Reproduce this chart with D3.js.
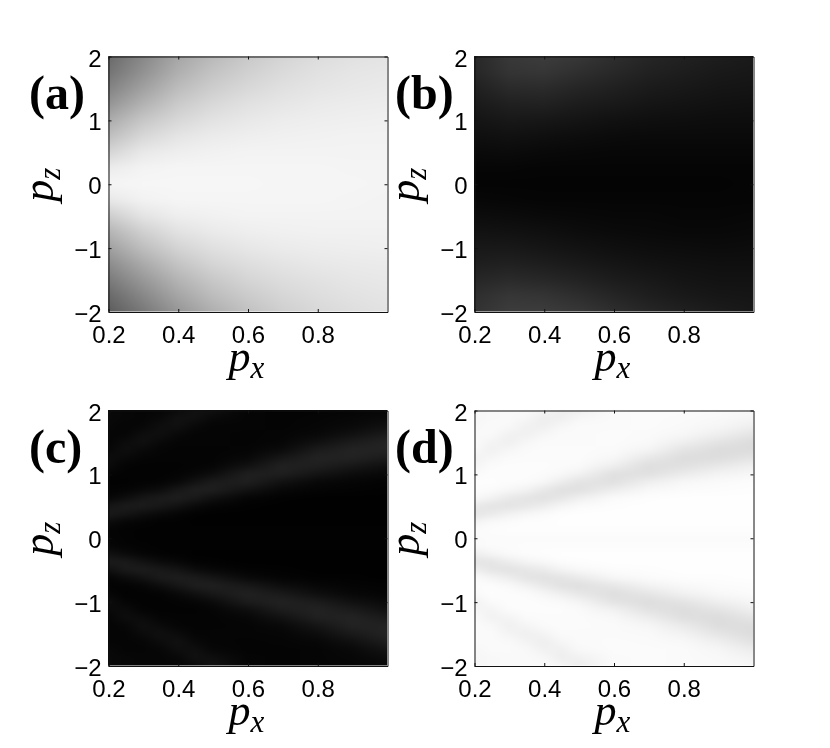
<!DOCTYPE html>
<html>
<head>
<meta charset="utf-8">
<script src="https://cdn.jsdelivr.net/npm/d3@7"></script>
<style>
html,body{margin:0;padding:0;background:#fff}
#wrap{position:relative;width:830px;height:748px;overflow:hidden}
canvas,svg{position:absolute;left:0;top:0}
.tick text{font-family:"Liberation Sans",Arial,sans-serif;font-size:24px;fill:#000}
.math{font-family:"Liberation Serif",serif;font-style:italic;fill:#000}
.tag{font-family:"Liberation Serif",serif;font-weight:bold;font-size:48px;fill:#000}
</style>
</head>
<body>
<div id="wrap"><canvas id="cv" width="830" height="748"></canvas><svg id="sv" width="830" height="748"></svg></div>
<script>
const pxCoarse = [0.2,0.3,0.4,0.5,0.6,0.7,0.8,0.9,1.0];
const pxFine = [0.2,0.25,0.3,0.35,0.4,0.45,0.5,0.6,0.7,0.8,0.9,1.0];
const pzCoarse = [2,1.75,1.5,1.25,1,0.75,0.5,0.25,0,-0.25,-0.5,-0.75,-1,-1.25,-1.5,-1.75,-2];
const pzFine = [2,1.875,1.75,1.625,1.5,1.375,1.25,1.125,1,0.875,0.75,0.625,0.5,0.375,0.25,0.125,0,-0.125,-0.25,-0.375,-0.5,-0.625,-0.75,-0.875,-1,-1.125,-1.25,-1.375,-1.5,-1.625,-1.75,-1.875,-2];
const xTicks = [0.2,0.4,0.6,0.8];
const yTicks = [-2,-1,0,1,2];
const panelTags = ["(a)","(b)","(c)","(d)"];

const valuesA = [
[105,135,165,185,200,212,220,225,228],
[115,145,175,195,208,218,225,229,231],
[130,160,188,205,216,224,229,232,234],
[148,178,202,216,225,230,234,236,237],
[170,198,215,226,232,236,238,239,240],
[190,215,228,235,238,240,241,242,242],
[212,232,238,241,243,243,243,243,243],
[235,243,245,245,245,245,245,244,244],
[245,246,246,246,246,245,245,245,244],
[232,242,245,245,245,245,245,244,243],
[205,228,238,241,243,243,243,243,243],
[180,208,226,234,238,240,241,241,241],
[160,190,212,224,231,235,237,238,239],
[140,170,196,213,222,228,232,234,235],
[122,152,180,200,213,221,226,230,232],
[105,135,165,188,203,214,221,226,229],
[92,120,150,175,193,207,216,222,226]];

const valuesB = [
[40,56,60,55,46,38,33,29,26],
[38,52,54,47,40,33,29,25,23],
[32,42,43,37,32,27,24,21,20],
[26,32,33,28,25,21,19,17,16],
[20,24,23,20,17,15,14,13,13],
[15,17,15,13,11,10,10,10,10],
[10,11,9,8,7,7,7,7,7],
[6,6,5,5,5,5,5,5,5],
[4,4,4,4,4,4,4,4,5],
[7,6,5,5,5,5,5,5,5],
[12,11,9,8,7,7,6,6,7],
[18,17,15,12,10,9,8,8,9],
[24,24,21,18,15,13,12,11,12],
[30,32,29,25,21,18,16,15,15],
[38,42,39,34,28,24,20,18,18],
[46,54,52,45,37,30,25,22,21],
[50,60,60,55,46,38,32,27,24]];

const valuesC = [
[9,7,6,6,10,17,16,5,4,4,5,7],
[9,7,6,9,17,16,9,5,4,5,7,10],
[8,5,7,14,16,9,5,5,4,6,9,16],
[6,6,13,15,9,5,5,4,5,8,16,26],
[5,11,16,9,5,5,5,4,6,16,27,35],
[7,14,9,5,4,4,4,5,11,27,35,35],
[13,9,5,4,4,4,4,8,23,34,34,27],
[11,4,3,3,3,4,5,17,33,31,23,15],
[5,3,3,3,4,7,13,31,31,20,12,8],
[2,2,3,4,8,18,27,31,17,8,5,3],
[3,4,8,13,23,31,31,18,7,4,3,2],
[6,13,22,27,30,25,16,5,2,1,1,1],
[21,27,28,24,18,10,5,2,1,1,1,1],
[27,21,14,9,5,2,1,1,1,1,1,1],
[12,6,4,2,2,1,1,1,1,1,1,1],
[4,3,2,2,2,2,2,2,2,2,2,2],
[5,3,2,2,2,2,2,2,2,2,2,2],
[6,4,3,2,2,2,2,2,2,2,2,2],
[17,10,5,3,2,1,1,1,1,1,1,1],
[28,26,18,11,7,3,2,1,1,1,1,1],
[16,26,29,25,20,12,7,3,2,1,1,1],
[4,11,18,27,30,27,21,9,4,2,2,1],
[3,3,6,13,22,30,32,24,13,7,4,3],
[6,2,3,4,9,16,24,33,25,14,7,4],
[13,5,3,3,4,6,11,28,34,27,16,9],
[9,11,4,3,3,3,5,14,29,34,27,16],
[5,13,11,5,4,4,4,7,18,32,35,26],
[4,7,15,10,5,4,4,5,9,21,34,34],
[5,5,11,16,11,5,5,5,6,13,26,35],
[5,5,6,12,17,9,5,4,5,7,16,29],
[8,5,5,7,14,15,7,4,4,5,9,19],
[9,7,6,6,8,17,14,5,4,5,7,12],
[9,7,6,6,6,10,18,5,4,5,6,8]];

const valuesD = [
[246,248,249,249,245,238,239,250,251,251,250,248],
[246,248,249,246,238,239,246,250,251,250,248,245],
[247,250,248,241,239,246,250,250,251,249,246,239],
[249,249,242,240,246,250,250,251,250,247,239,229],
[250,244,239,246,250,250,250,251,249,239,228,220],
[248,241,246,250,251,251,251,250,244,228,220,220],
[242,246,250,251,251,251,251,247,232,221,221,228],
[244,251,252,252,252,251,250,238,222,224,232,240],
[250,252,252,252,251,248,242,224,224,235,243,247],
[253,253,252,251,247,237,228,224,238,247,250,252],
[252,251,247,242,232,224,224,237,248,251,252,253],
[249,242,233,228,225,230,239,250,253,254,254,254],
[234,228,227,231,237,245,250,253,254,254,254,254],
[228,234,241,246,250,253,254,254,254,254,254,254],
[243,249,251,253,253,254,254,254,254,254,254,254],
[251,252,253,253,253,253,253,253,253,253,253,253],
[250,251,251,251,251,251,251,251,251,251,251,251],
[249,251,251,252,252,252,252,252,252,252,252,252],
[238,245,250,252,253,254,254,254,254,254,254,254],
[227,229,237,244,248,252,253,254,254,254,254,254],
[239,229,226,230,235,243,248,252,253,254,254,254],
[251,244,237,228,225,228,234,246,251,253,253,254],
[252,252,249,242,233,225,223,231,242,248,251,252],
[249,253,252,251,246,239,231,222,230,241,248,251],
[242,250,252,252,251,249,244,227,221,228,239,246],
[246,244,251,252,252,252,250,241,226,221,228,239],
[250,242,244,250,251,251,251,248,237,223,220,229],
[251,248,240,245,250,251,251,250,246,234,221,221],
[250,250,244,239,244,250,250,250,249,242,229,220],
[250,250,249,243,238,246,250,251,250,248,239,226],
[247,250,250,248,241,240,248,251,251,250,246,236],
[246,248,249,249,247,238,241,250,251,250,248,243],
[246,248,249,249,249,245,237,250,251,250,249,247]];

const panels = [
  {vals:valuesA, px:pxCoarse, pz:pzCoarse, left:108, top:56,  tagX:29,  tagY:109, tag:panelTags[0]},
  {vals:valuesB, px:pxCoarse, pz:pzCoarse, left:474, top:56,  tagX:395, tagY:109, tag:panelTags[1]},
  {vals:valuesC, px:pxFine,   pz:pzFine,   left:108, top:410, tagX:29,  tagY:463, tag:panelTags[2]},
  {vals:valuesD, px:pxFine,   pz:pzFine,   left:474, top:410, tagX:395, tagY:463, tag:panelTags[3]}
];
const W = 279, H = 255.5, M = 8;
const ctx = document.getElementById("cv").getContext("2d");
ctx.fillStyle="#fff"; ctx.fillRect(0,0,830,748);
const svg = d3.select("#sv");

panels.forEach(p=>{
  const x = d3.scaleLinear().domain([0.2,1.0]).range([0,W]);
  const y = d3.scaleLinear().domain([-2,2]).range([H,0]);
  const colAt = d3.scaleLinear().domain(p.px).range(d3.range(p.px.length)).clamp(true);
  const rowAt = d3.scaleLinear().domain(p.pz).range(d3.range(p.pz.length)).clamp(true);
  const tw = W+2*M, th = Math.ceil(H)+2*M;
  const off = document.createElement("canvas"); off.width=tw; off.height=th;
  const oc = off.getContext("2d");
  const img = oc.createImageData(tw,th);
  for(let j=0;j<th;j++){
    const rf = rowAt(y.invert(j-M+0.5)), r0 = Math.floor(rf), r1 = Math.min(r0+1,p.pz.length-1), rt = rf-r0;
    for(let i=0;i<tw;i++){
      const cf = colAt(x.invert(i-M+0.5)), c0 = Math.floor(cf), c1 = Math.min(c0+1,p.px.length-1), ct = cf-c0;
      const v = (p.vals[r0][c0]*(1-ct)+p.vals[r0][c1]*ct)*(1-rt)+(p.vals[r1][c0]*(1-ct)+p.vals[r1][c1]*ct)*rt;
      const k = (j*tw+i)*4;
      img.data[k]=img.data[k+1]=img.data[k+2]=v; img.data[k+3]=255;
    }
  }
  oc.putImageData(img,0,0);
  ctx.save();
  ctx.beginPath(); ctx.rect(p.left,p.top,W,H); ctx.clip();
  ctx.filter="blur(2px)";
  ctx.drawImage(off,p.left-M,p.top-M);
  ctx.restore();

  const g = svg.append("g").attr("transform",`translate(${p.left+0.5},${p.top+0.5})`);
  const style = s=>{s.select(".domain").attr("stroke","#111").attr("stroke-width",1);
    s.selectAll(".tick line").attr("stroke","#111").attr("stroke-width",1);};
  const bottom = g.append("g").attr("transform",`translate(0,${H})`)
    .call(d3.axisBottom(x).tickValues(xTicks).tickSize(-3).tickSizeOuter(0).tickFormat(d3.format(".1f")));
  bottom.call(style);
  bottom.selectAll("text").attr("y",31).attr("dy",0);
  const left = g.append("g")
    .call(d3.axisLeft(y).tickValues(yTicks).tickSize(-3).tickSizeOuter(0).tickFormat(d3.format("d")));
  left.call(style);
  left.selectAll("text").attr("x",-7).attr("y",9.5).attr("dy",0);
  const top = g.append("g")
    .call(d3.axisTop(x).tickValues(xTicks).tickSize(-3).tickSizeOuter(0).tickFormat(""));
  top.call(style);
  const right = g.append("g").attr("transform",`translate(${W},0)`)
    .call(d3.axisRight(y).tickValues(yTicks).tickSize(-3).tickSizeOuter(0).tickFormat(""));
  right.call(style);

  svg.append("text").attr("class","tag").attr("x",p.tagX).attr("y",p.tagY).text(p.tag);

  const xl = svg.append("text").attr("class","math").attr("text-anchor","middle")
    .attr("x",p.left+W/2-1).attr("y",p.top+H+59);
  xl.append("tspan").attr("font-size",44).text("p");
  xl.append("tspan").attr("font-size",31).attr("dy",7).text("x");
  const yl = svg.append("text").attr("class","math").attr("text-anchor","middle")
    .attr("transform",`translate(${p.left-55},${p.top+H/2+1}) rotate(-90)`);
  yl.append("tspan").attr("font-size",44).text("p");
  yl.append("tspan").attr("font-size",31).attr("dy",7).text("z");
});
</script>
</body>
</html>
